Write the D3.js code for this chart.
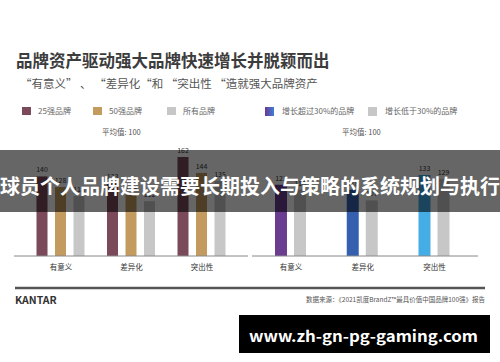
<!DOCTYPE html>
<html><head><meta charset="utf-8">
<script src="https://cdn.jsdelivr.net/npm/d3@7"></script>
<style>
html,body{margin:0;padding:0;background:#fff;}
svg{display:block;}
text{font-family:"Noto Sans CJK SC","Noto Sans",sans-serif;}
</style></head>
<body>
<script>
// ---- data ----
const categories = ["有意义", "差异化", "突出性"];
const leftSeries = ["25强品牌", "50强品牌", "所有品牌"];
const top25 = [140, 133, 162];
const top50 = [128, 119, 144];
const allBrands = [118, 112, 135];
const rightSeries = ["增长超过30%的品牌", "增长低于30%的品牌"];
const fastGrowth = [123, 118, 133];
const slowGrowth = [118, 107, 129];
const averageLabel = "平均值: 100";
const title = "品牌资产驱动强大品牌快速增长并脱颖而出";
const subtitle = "“有意义” 、 “差异化“和 “突出性 “造就强大品牌资产";
const overlayText = "球员个人品牌建设需要长期投入与策略的系统规划与执行";
const sourceText = "数据来源：《2021凯度BrandZ™最具价值中国品牌100强》报告";
const bannerText = "www.zh-gn-pg-gaming.com";

const W = 500, H = 362;
const svg = d3.select("body").append("svg").attr("width", W).attr("height", H);
const defs = svg.append("defs");
const grad = defs.append("linearGradient").attr("id", "pg");
grad.append("stop").attr("offset", "0%").attr("stop-color", "#6a3a92");
grad.append("stop").attr("offset", "100%").attr("stop-color", "#3f7fd6");

svg.append("rect").attr("width", W).attr("height", H).attr("fill", "#fff");

// titles
svg.append("text").attr("x", 16).attr("y", 67).attr("font-size", 16.5).attr("font-weight", 700)
  .attr("fill", "#3c3c3c").text(title);
svg.append("text").attr("x", 20).attr("y", 88).attr("font-size", 11.5)
  .attr("fill", "#555").text(subtitle);

const baseY = 256;
const leftColors = ["#7a4a5a", "#c49b5f", "#c7c7c7"];
const rightColors = ["#6a3d91", "#c7c7c7"];
const rightGroupColors = [["#6a3d91", "#3560b0", "#45ade5"]];

// ---- left chart ----
const yL = d3.scaleLinear().domain([50, 162]).range([baseY, 157]);
const xL = d3.scalePoint().domain(categories).range([60.5, 201.5]);
const xLi = d3.scaleBand().domain(leftSeries).range([-24, 24]).paddingInner(0.405).paddingOuter(0);
const leftData = [top25, top50, allBrands];

const gL = svg.append("g");
leftSeries.forEach((s, si) => {
  gL.selectAll(null).data(categories).enter().append("rect")
    .attr("x", c => xL(c) + xLi(s))
    .attr("width", xLi.bandwidth())
    .attr("y", (c, i) => yL(leftData[si][i]))
    .attr("height", (c, i) => baseY - yL(leftData[si][i]))
    .attr("fill", leftColors[si]);
  gL.selectAll(null).data(categories).enter().append("text")
    .attr("x", c => xL(c) + xLi(s) + xLi.bandwidth() / 2)
    .attr("y", (c, i) => yL(leftData[si][i]) - 4)
    .attr("text-anchor", "middle").attr("font-size", 7).attr("fill", "#333")
    .text((c, i) => leftData[si][i]);
});
const axL = d3.axisBottom(xL).tickSize(0).tickPadding(9);
const axLg = svg.append("g").attr("transform", `translate(0,${baseY})`).call(axL);
axLg.select(".domain").attr("d", "M14,0H248").attr("stroke", "#888").attr("stroke-width", 1);
axLg.selectAll("text").attr("font-size", 7.5).attr("fill", "#333")
  .attr("font-family", "Noto Sans CJK SC");

// left legend
const legL = svg.append("g");
const legLx = [22, 93, 167];
leftSeries.forEach((s, i) => {
  legL.append("rect").attr("x", legLx[i]).attr("y", 107).attr("width", 9).attr("height", 8).attr("fill", leftColors[i]);
  legL.append("text").attr("x", legLx[i] + 16).attr("y", 114).attr("font-size", 8).attr("fill", "#666").text(s);
});
svg.append("text").attr("x", 102).attr("y", 135).attr("font-size", 7.5).attr("fill", "#555").text(averageLabel);

// ---- right chart ----
const yR = d3.scaleLinear().domain([50, 133]).range([baseY, 175]);
const xR = d3.scalePoint().domain(categories).range([290.5, 434]);
const xRi = d3.scaleBand().domain(rightSeries).range([-15.5, 15.5]).paddingInner(0.37).paddingOuter(0);
const rightData = [fastGrowth, slowGrowth];
const fastColors = ["#6a3d91", "#3560b0", "#45ade5"];
const gR = svg.append("g");
rightSeries.forEach((s, si) => {
  gR.selectAll(null).data(categories).enter().append("rect")
    .attr("x", c => xR(c) + xRi(s))
    .attr("width", xRi.bandwidth())
    .attr("y", (c, i) => yR(rightData[si][i]))
    .attr("height", (c, i) => baseY - yR(rightData[si][i]))
    .attr("fill", (c, i) => si === 0 ? fastColors[i] : "#c7c7c7");
  gR.selectAll(null).data(categories).enter().append("text")
    .attr("x", c => xR(c) + xRi(s) + xRi.bandwidth() / 2)
    .attr("y", (c, i) => yR(rightData[si][i]) - 4)
    .attr("text-anchor", "middle").attr("font-size", 7).attr("fill", "#333")
    .text((c, i) => rightData[si][i]);
});
const axR = d3.axisBottom(xR).tickSize(0).tickPadding(9);
const axRg = svg.append("g").attr("transform", `translate(0,${baseY})`).call(axR);
axRg.select(".domain").attr("d", "M252,0H478").attr("stroke", "#888").attr("stroke-width", 1);
axRg.selectAll("text").attr("font-size", 7.5).attr("fill", "#333")
  .attr("font-family", "Noto Sans CJK SC");

// right legend
svg.append("rect").attr("x", 265).attr("y", 107).attr("width", 9).attr("height", 9).attr("fill", "url(#pg)");
svg.append("text").attr("x", 282).attr("y", 114).attr("font-size", 8).attr("fill", "#666").text(rightSeries[0]);
svg.append("rect").attr("x", 368).attr("y", 107).attr("width", 9).attr("height", 9).attr("fill", "#c7c7c7");
svg.append("text").attr("x", 385).attr("y", 114).attr("font-size", 8).attr("fill", "#666").text(rightSeries[1]);
svg.append("text").attr("x", 342).attr("y", 135).attr("font-size", 7.5).attr("fill", "#555").text(averageLabel);

// footer
svg.append("line").attr("x1", 15).attr("x2", 485).attr("y1", 288).attr("y2", 288)
  .attr("stroke", "#555").attr("stroke-width", 2.5);
svg.append("text").attr("x", 15).attr("y", 304).attr("font-size", 10.5).attr("font-weight", 700)
  .attr("font-family", "Liberation Sans").attr("fill", "#333").text("KANTAR");
svg.append("text").attr("x", 485).attr("y", 302).attr("text-anchor", "end").attr("font-size", 6.5)
  .attr("fill", "#555").text(sourceText);

// overlay band
svg.append("rect").attr("x", 0).attr("y", 150).attr("width", W).attr("height", 62)
  .attr("fill", "#000").attr("fill-opacity", 0.6);
svg.append("text").attr("x", 250).attr("y", 194).attr("text-anchor", "middle")
  .attr("font-size", 20).attr("font-weight", 700).attr("fill", "#fff").text(overlayText);

// bottom banner
svg.append("rect").attr("x", 239).attr("y", 315).attr("width", 251).attr("height", 38).attr("fill", "#000");
svg.append("text").attr("x", 249).attr("y", 342).attr("font-size", 15).attr("font-weight", 700)
  .attr("font-family", "DejaVu Sans").attr("fill", "#fff")
  .attr("textLength", 229).attr("lengthAdjust", "spacingAndGlyphs").text(bannerText);
</script>
</body></html>
